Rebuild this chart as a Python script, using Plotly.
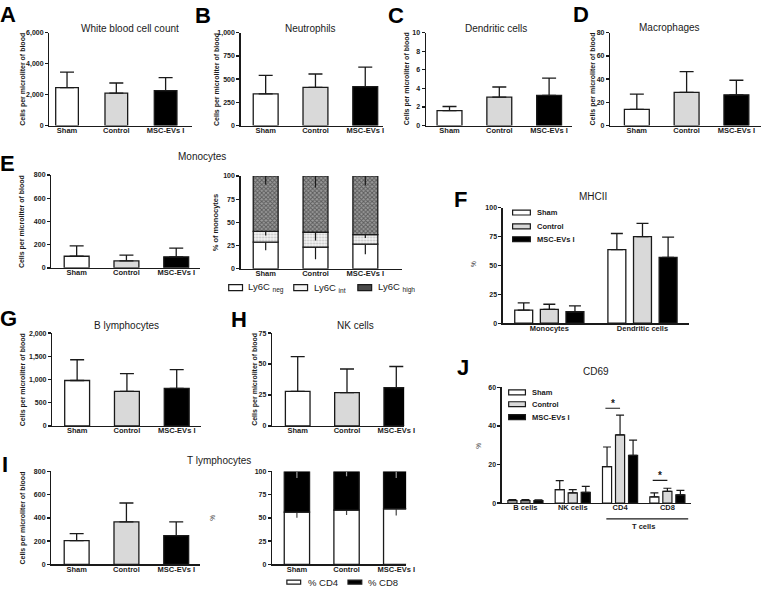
import plotly.graph_objects as go

W, H = 774, 595
FONT = "Arial, 'Liberation Sans', Helvetica, sans-serif"
INK = "#1a1a1a"

# ---------------- data ----------------
groups = ["Sham", "Control", "MSC-EVs I"]
group_colors = ["#ffffff", "#d9d9d9", "#000000"]

wbc_mean = [2450, 2100, 2250]
wbc_err = [1000, 650, 850]
neutro_mean = [340, 410, 420]
neutro_err = [200, 145, 210]
dendritic_mean = [1.6, 3.05, 3.25]
dendritic_err = [0.45, 1.1, 1.85]
macro_mean = [14, 28.5, 26.5]
macro_err = [13, 18, 12.5]
mono_mean = [100, 60, 95]
mono_err = [90, 50, 75]

ly6c_neg = [28.7, 23.4, 26.6]
ly6c_neg_err = [8.8, 13.1, 11.0]
ly6c_int = [11.7, 16.0, 10.3]
ly6c_int_err = [4.6, 8.9, 3.6]
ly6c_high = [59.6, 60.6, 63.1]
ly6c_high_err = [9.3, 12.4, 10.3]

mhc_cats = ["Monocytes", "Dendritic cells"]
mhc_sham = [11.3, 63.7]
mhc_sham_err = [6.3, 13.9]
mhc_ctrl = [11.9, 74.8]
mhc_ctrl_err = [4.5, 11.6]
mhc_msc = [9.9, 56.9]
mhc_msc_err = [5.1, 17.6]

blym_mean = [979, 745, 809]
blym_err = [447, 383, 404]
nk_mean = [28, 27, 31]
nk_err = [28, 19, 17]
tlym_mean = [204, 366, 247]
tlym_err = [60, 162, 119]

cd4_pct = [56.2, 58.4, 59.8]
cd4_pct_err = [6.0, 5.4, 7.1]
cd8_pct = [43.8, 41.6, 40.2]
cd8_pct_err = [7.1, 5.3, 7.1]

cd69_cats = ["B cells", "NK cells", "CD4", "CD8"]
cd69_sham = [1.3, 7.0, 18.9, 3.2]
cd69_sham_err = [0.5, 4.6, 10.2, 2.1]
cd69_ctrl = [1.3, 5.3, 35.4, 6.1]
cd69_ctrl_err = [0.5, 1.7, 10.2, 1.6]
cd69_msc = [1.3, 5.6, 24.7, 4.3]
cd69_msc_err = [0.4, 3.1, 8.0, 2.3]

# ---------------- helpers ----------------
def px(x):
    return x / W


def py(y):
    return 1 - y / H


def ax(n, letter):
    return letter if n == 1 else f"{letter}{n}"


fig = go.Figure()
layout = {}
annotations = []
shapes = []


def add_axes(n, x0, x1, ytop, ybot, xrange, yrange, dtick, xcat_size=7.5):
    layout[("xaxis" if n == 1 else f"xaxis{n}")] = dict(
        domain=[px(x0), px(x1)], anchor=ax(n, "y"), range=xrange,
        showline=True, linecolor=INK, linewidth=1.3, ticks="",
        showgrid=False, zeroline=False, fixedrange=True,
        tickfont=dict(family=FONT, size=xcat_size, color=INK, weight="bold"),
        tickangle=0, ticklabelstandoff=-3,
    )
    layout[("yaxis" if n == 1 else f"yaxis{n}")] = dict(
        domain=[py(ybot), py(ytop)], anchor=ax(n, "x"), range=yrange,
        dtick=dtick, tick0=0, tickformat=",",
        showline=True, linecolor=INK, linewidth=1.3,
        ticks="outside", ticklen=3, tickwidth=1.3, tickcolor=INK,
        showgrid=False, zeroline=False, fixedrange=True,
        tickfont=dict(family=FONT, size=7, color=INK, weight="bold"),
    )


def simple_bar(n, means, errs, width=0.5, cap=7):
    fig.add_trace(go.Bar(
        x=groups, y=means, xaxis=ax(n, "x"), yaxis=ax(n, "y"), width=width,
        marker=dict(color=group_colors, line=dict(color=INK, width=1.3)),
        error_y=dict(type="data", symmetric=False, array=errs,
                     arrayminus=[0] * len(errs), color=INK, thickness=1.3, width=cap),
        showlegend=False, hoverinfo="skip",
    ))


def text(x, y, s, size, bold=False, angle=0, xanchor="center", color=INK):
    annotations.append(dict(
        x=px(x), y=py(y), xref="paper", yref="paper", text=s, showarrow=False,
        xanchor=xanchor, yanchor="middle", textangle=angle,
        font=dict(family=FONT, size=size, color=color, weight="bold" if bold else "normal"),
    ))


# ---------------- panels A-D, E-left, G, H, I-left ----------------
add_axes(1, 50, 195, 29, 123, [-0.36, 2.54], [0, 6000], 2000)
simple_bar(1, wbc_mean, wbc_err, width=0.46)
add_axes(2, 244, 389, 29, 123, [-0.505, 2.366], [0, 1000], 250)
simple_bar(2, neutro_mean, neutro_err)
add_axes(3, 432, 580, 29, 123, [-0.475, 2.455], [0, 10], 2)
simple_bar(3, dendritic_mean, dendritic_err)
add_axes(4, 619, 772, 29, 123, [-0.535, 2.495], [0, 80], 20)
simple_bar(4, macro_mean, macro_err)
add_axes(5, 52, 203, 173, 267, [-0.51, 2.48], [0, 800], 200)
simple_bar(5, mono_mean, mono_err)
add_axes(8, 53, 204, 333, 427, [-0.5, 2.49], [0, 2000], 500)
simple_bar(8, blym_mean, blym_err)
add_axes(9, 276, 410, 333, 427, [-0.52, 2.16], [0, 75], 25)
simple_bar(9, nk_mean, nk_err)
add_axes(10, 52, 203, 473, 567, [-0.51, 2.48], [0, 800], 200)
simple_bar(10, tlym_mean, tlym_err)

# ---------------- E-right: Ly6C stacked ----------------
add_axes(6, 244, 408, 174, 268, [-0.505, 2.74], [0, 100], 25)
neg_int = [a + b for a, b in zip(ly6c_neg, ly6c_int)]
ly6c_series = [
    ("Ly6C neg", ly6c_neg, [0, 0, 0], ly6c_neg_err,
     dict(color="#ffffff")),
    ("Ly6C int", ly6c_int, ly6c_neg, ly6c_int_err,
     dict(color="#ffffff", pattern=dict(shape=".", fgcolor="#8a8a8a", bgcolor="#f4f4f4", size=3, solidity=0.35))),
    ("Ly6C high", ly6c_high, neg_int, ly6c_high_err,
     dict(color="#555555", pattern=dict(shape="x", fgcolor="#1e1e1e", bgcolor="#9a9a9a", size=3, solidity=0.55))),
]
for name, vals, base, errs, mk in ly6c_series:
    mk = dict(mk)
    mk["line"] = dict(color=INK, width=1.3)
    fig.add_trace(go.Bar(
        x=groups, y=vals, base=base, xaxis="x6", yaxis="y6", width=0.5,
        offsetgroup="ly6c", marker=mk, name=name,
        error_y=dict(type="data", symmetric=False, array=[0, 0, 0], arrayminus=errs,
                     color=INK, thickness=1.2, width=0),
        showlegend=False, hoverinfo="skip",
    ))

# ---------------- I-right: CD4/CD8 stacked ----------------
add_axes(11, 276, 412, 473, 567, [-0.5, 2.2], [0, 100], 25)
fig.add_trace(go.Bar(
    x=groups, y=cd4_pct, xaxis="x11", yaxis="y11", width=0.51, offsetgroup="cd",
    marker=dict(color="#ffffff", line=dict(color=INK, width=1.3)), name="% CD4",
    error_y=dict(type="data", symmetric=False, array=[0, 0, 0], arrayminus=cd4_pct_err,
                 color="#444444", thickness=1.2, width=0),
    showlegend=False, hoverinfo="skip",
))
fig.add_trace(go.Bar(
    x=groups, y=cd8_pct, base=cd4_pct, xaxis="x11", yaxis="y11", width=0.51, offsetgroup="cd",
    marker=dict(color="#000000", line=dict(color=INK, width=1.3)), name="% CD8",
    error_y=dict(type="data", symmetric=False, array=[0, 0, 0], arrayminus=cd8_pct_err,
                 color="#9a9a9a", thickness=1.2, width=0),
    showlegend=False, hoverinfo="skip",
))

# ---------------- F: MHCII grouped ----------------
add_axes(7, 510, 699, 206, 323, [-0.5, 1.5], [0, 100], 25)
for g, c, vals, errs in zip(groups, group_colors,
                            [mhc_sham, mhc_ctrl, mhc_msc],
                            [mhc_sham_err, mhc_ctrl_err, mhc_msc_err]):
    fig.add_trace(go.Bar(
        x=mhc_cats, y=vals, xaxis="x7", yaxis="y7", name=g,
        marker=dict(color=c, line=dict(color=INK, width=1.3)),
        error_y=dict(type="data", symmetric=False, array=errs, arrayminus=[0] * len(errs),
                     color=INK, thickness=1.3, width=6),
        showlegend=False, hoverinfo="skip",
    ))

# ---------------- J: CD69 grouped ----------------
add_axes(12, 509, 701, 388, 505, [-0.5, 3.5], [0, 60], 20, xcat_size=7.5)
for g, c, vals, errs in zip(groups, group_colors,
                            [cd69_sham, cd69_ctrl, cd69_msc],
                            [cd69_sham_err, cd69_ctrl_err, cd69_msc_err]):
    fig.add_trace(go.Bar(
        x=cd69_cats, y=vals, xaxis="x12", yaxis="y12", name=g,
        marker=dict(color=c, line=dict(color=INK, width=1.2)),
        error_y=dict(type="data", symmetric=False, array=errs, arrayminus=[0] * len(errs),
                     color=INK, thickness=1.2, width=4),
        showlegend=False, hoverinfo="skip",
    ))

# significance markers in J (in data coordinates of the CD69 axes)
for cat_idx, ybar in [(2, 49.2), (3, 11.8)]:
    shapes.append(dict(type="line", xref="x12", yref="y12", x0=cat_idx - 0.31, x1=cat_idx,
                       y0=ybar, y1=ybar, line=dict(color=INK, width=1.2)))
    annotations.append(dict(x=cat_idx - 0.15, y=ybar, xref="x12", yref="y12", text="*",
                            showarrow=False, yanchor="bottom", yshift=-3,
                            font=dict(family=FONT, size=10, color=INK, weight="bold")))
# T cells bracket
shapes.append(dict(type="line", xref="x12", yref="paper", x0=1.71, x1=3.44,
                   y0=py(521), y1=py(521), line=dict(color=INK, width=1.2)))
annotations.append(dict(x=2.5, y=py(529), xref="x12", yref="paper", text="T cells",
                        showarrow=False, yanchor="middle",
                        font=dict(family=FONT, size=7.5, color=INK, weight="bold")))

# ---------------- titles ----------------
for x, y, s in [(132, 25, "White blood cell count"), (315, 25, "Neutrophils"),
                (503, 25, "Dendritic cells"), (679, 24, "Macrophages"),
                (205, 154, "Monocytes"), (602, 195, "MHCII"),
                (128, 325, "B lymphocytes"), (361, 325, "NK cells"),
                (222, 462, "T lymphocytes"), (605, 372, "CD69")]:
    text(x, y, s, 10)

# panel letters
for x, y, s in [(8, 11, "A"), (206, 12, "B"), (402, 12, "C"), (589, 11, "D"),
                (8, 161, "E"), (467, 198, "F"), (9, 318, "G"), (242, 319, "H"),
                (5, 466, "I"), (470, 368, "J")]:
    text(x, y, s, 22, bold=True, color="#000000")

# y-axis titles
cells = "Cells per microliter of blood"
for x, y, s, sz, b in [(23, 76, cells, 7, True), (220, 76, cells, 7, True),
                       (413, 76, cells, 7, True), (602, 76, cells, 7, True),
                       (23, 220, cells, 7, True), (218, 221, "% of monocytes", 7.5, True),
                       (481, 263, "%", 6.5, False), (23, 380, cells, 7, True),
                       (258, 380, cells, 7, True), (23, 520, cells, 7, True),
                       (216, 520, "%", 6.5, False), (486, 447, "%", 6.5, False)]:
    text(x, y, s, sz, bold=b, angle=-90)

# ---------------- manual legends ----------------
def legend_key(x0, x1, yc, h, fill, line=INK):
    shapes.append(dict(type="rect", xref="paper", yref="paper",
                       x0=px(x0), x1=px(x1), y0=py(yc + h / 2), y1=py(yc - h / 2),
                       fillcolor=fill, line=dict(color=line, width=1.2)))


for (x0, x1, tx), ys in [((520, 538, 543), [211, 225, 238]), ((516, 533, 538), [393, 405, 418])]:
    for g, c, yc in zip(groups, group_colors, ys):
        legend_key(x0, x1, yc, 5, c)
        text(tx, yc, g, 7.5, bold=True, xanchor="left")

# E legend (Ly6C subsets)
for (x0, tx), (name, _, _, _, mk) in zip([(232, 250), (298, 316), (363, 381)], ly6c_series):
    fill = mk.get("pattern", {}).get("bgcolor", mk["color"]) if name != "Ly6C high" else "#4a4a4a"
    legend_key(x0, x0 + 14, 287, 6, fill)
    base, sub = name.split(" ")
    text(tx, 287, f"{base} <sub>{sub}</sub>", 9.5, xanchor="left")

# I legend (CD4 / CD8)
for x0, tx, name, c in [(291, 310, "% CD4", "#ffffff"), (353, 371, "% CD8", "#000000")]:
    legend_key(x0, x0 + 14, 585, 4, c)
    text(tx, 585, name, 9.5, xanchor="left")

fig.update_layout(
    width=W, height=H, autosize=False,
    margin=dict(l=0, r=0, t=0, b=0),
    paper_bgcolor="white", plot_bgcolor="white",
    barmode="group", bargap=0.175, bargroupgap=0.3,
    font=dict(family=FONT, color=INK),
    annotations=annotations, shapes=shapes,
    showlegend=False,
    **layout,
)

fig.write_html(
    "out.html",
    config={"displayModeBar": False, "staticPlot": True},
    post_script="document.body.style.margin='0';document.body.style.overflow='hidden';",
)
